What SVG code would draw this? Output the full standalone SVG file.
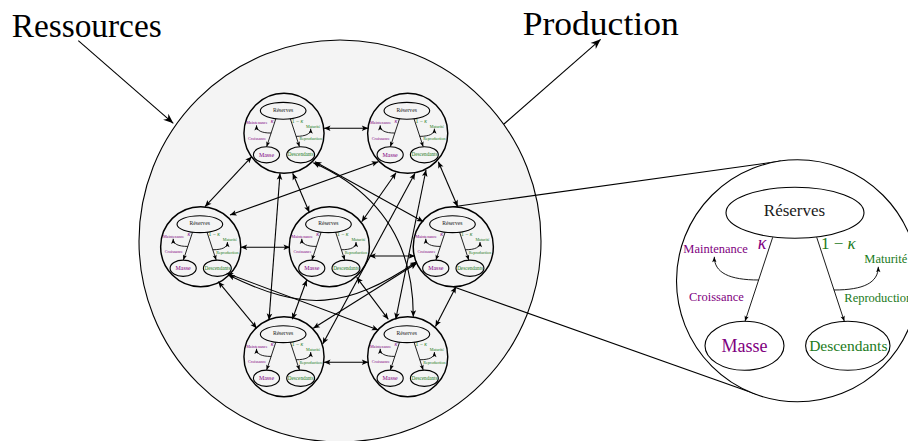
<svg xmlns="http://www.w3.org/2000/svg" width="908" height="441" viewBox="0 0 908 441">
<defs>
<marker id="ah" viewBox="-7 -3 8 6" refX="0" refY="0" markerWidth="8" markerHeight="6" orient="auto" markerUnits="strokeWidth"><path d="M0,0 L-6,-2.4 L-4.6,0 L-6,2.4 Z" fill="#000" stroke="none"/></marker>
<marker id="ch" viewBox="-8 -4 9 8" refX="0" refY="0" markerWidth="9" markerHeight="8" orient="auto-start-reverse" markerUnits="userSpaceOnUse"><path d="M0,0 L-6.5,-2.8 L-5,0 L-6.5,2.8 Z" fill="#000" stroke="none"/></marker>
<marker id="bh" viewBox="-11 -5 12 10" refX="0" refY="0" markerWidth="12" markerHeight="10" orient="auto" markerUnits="userSpaceOnUse"><path d="M0,0 L-10,-4 L-7,0 L-10,4 Z" fill="#000" stroke="none"/></marker>
</defs>

<circle id="system" cx="340" cy="241" r="201" fill="#f4f4f4" stroke="#000" stroke-width="1.1"/>

<g id="titles" font-family="Liberation Serif" font-size="33" fill="#000">
<text x="11.7" y="36.7" textLength="150" lengthAdjust="spacingAndGlyphs">Ressources</text>
<text x="522.7" y="35" textLength="156" lengthAdjust="spacingAndGlyphs">Production</text>
</g>

<g id="connectors" fill="none" stroke="#000" stroke-width="1.1">
<g marker-end="url(#bh)">
<path d="M78.3,40.7 L173.3,123.3"/>
<path d="M504,124 L600.7,39.3"/>
</g>
<path d="M453.3,206.7 L780.8,161.1"/>
<path d="M453.3,286.7 L757.1,394.6"/>
<g marker-start="url(#ch)" marker-end="url(#ch)">
<path d="M324,128.3 L368.3,128.3"/>
<path d="M251.7,156.7 L205,206.7"/>
<path d="M292.7,173.3 L309.3,212.3"/>
<path d="M280,173.3 L269,320"/>
<path d="M315,161.7 L423.3,221.7"/>
<path d="M313.3,162.7 Q413.6,207 413.3,316.7"/>
<path d="M378.3,161.7 L230,215"/>
<path d="M396,172.7 L361.7,221.7"/>
<path d="M438.3,161.7 L457.7,206.7"/>
<path d="M415,173.3 L322.7,344"/>
<path d="M426,170 L395.7,319.3"/>
<path d="M240.7,247.3 L290,247.3"/>
<path d="M228.3,275 C304.7,312.3 346.2,309.2 416.7,261.7"/>
<path d="M218.3,281.7 L256.7,328.3"/>
<path d="M226.7,273.3 L378.3,330"/>
<path d="M369.3,256 L415,256"/>
<path d="M306.7,280 L292.3,319.3"/>
<path d="M356.7,277.3 L388.3,319.3"/>
<path d="M416.7,263.3 L313.3,328.3"/>
<path d="M456,286.7 L435.5,326.5"/>
<path d="M324,362.3 L368.3,362.3"/>
</g>
</g>

<g id="node-zoom" font-family="Liberation Serif" transform="translate(797.5,280.8)">
<circle r="121" fill="#fff" stroke="#000" stroke-width="1.1"/>
<g fill="none" stroke="#000" stroke-width="1.1">
<ellipse cx="-2.5" cy="-68" rx="69" ry="25.5"/>
<ellipse cx="-53" cy="65" rx="39.5" ry="24.5"/>
<ellipse cx="50.3" cy="65" rx="42.2" ry="24.5"/>
</g>
<g fill="none" stroke="#000" stroke-width="0.9" marker-end="url(#ah)">
<path d="M-24.8,-43.5 L-52.5,40.5"/>
<path d="M19.2,-43.5 L46.8,40.5"/>
<path d="M-38.8,-0.8 C-68,-0.8 -83.2,-8 -83.2,-24"/>
<path d="M36.4,9.2 C66,9.2 80.8,2 80.8,-14"/>
</g>
<text x="-3" y="-65" font-size="17" fill="#1a1a1a" text-anchor="middle">Réserves</text>
<text x="-53" y="71" font-size="18" fill="#800080" text-anchor="middle">Masse</text>
<text x="50.8" y="70" font-size="15.5" fill="#1b7a1b" text-anchor="middle">Descendants</text>
<text x="-35.5" y="-31.5" font-size="18" font-style="italic" fill="#800080" text-anchor="middle">κ</text>
<text x="23.5" y="-31.5" font-size="17" fill="#1b7a1b">1 − <tspan font-style="italic">κ</tspan></text>
<g font-size="12.5" fill="#800080">
<text x="-114.2" y="-27.5">Maintenance</text>
<text x="-108.5" y="20">Croissance</text>
</g>
<g font-size="12.5" fill="#1b7a1b">
<text x="66.8" y="-17.5">Maturité</text>
<text x="46.8" y="21">Reproduction</text>
</g>
</g>

<g id="node-tl" font-family="Liberation Serif" transform="translate(284,133.3) scale(0.331)">
<circle r="121" fill="none" stroke="#000" stroke-width="4.4"/>
<g fill="none" stroke="#000" stroke-width="3.4">
<ellipse cx="-2.5" cy="-68" rx="69" ry="25.5"/>
<ellipse cx="-53" cy="65" rx="39.5" ry="24.5"/>
<ellipse cx="50.3" cy="65" rx="42.2" ry="24.5"/>
</g>
<g fill="none" stroke="#000" stroke-width="2.6" marker-end="url(#ah)">
<path d="M-24.8,-43.5 L-52.5,40.5"/>
<path d="M19.2,-43.5 L46.8,40.5"/>
<path d="M-38.8,-0.8 C-68,-0.8 -83.2,-8 -83.2,-24"/>
<path d="M36.4,9.2 C66,9.2 80.8,2 80.8,-14"/>
</g>
<text x="-3" y="-65" font-size="17" fill="#1a1a1a" text-anchor="middle">Réserves</text>
<text x="-53" y="71" font-size="18" fill="#800080" text-anchor="middle">Masse</text>
<text x="50.8" y="70" font-size="15.5" fill="#1b7a1b" text-anchor="middle">Descendants</text>
<text x="-35.5" y="-31.5" font-size="18" font-style="italic" fill="#800080" text-anchor="middle">κ</text>
<text x="23.5" y="-31.5" font-size="17" fill="#1b7a1b">1 − <tspan font-style="italic">κ</tspan></text>
<g font-size="12.5" fill="#800080">
<text x="-114.2" y="-27.5">Maintenance</text>
<text x="-108.5" y="20">Croissance</text>
</g>
<g font-size="12.5" fill="#1b7a1b">
<text x="66.8" y="-17.5">Maturité</text>
<text x="46.8" y="21">Reproduction</text>
</g>
</g>

<g id="node-tr" font-family="Liberation Serif" transform="translate(407.7,133.3) scale(0.331)">
<circle r="121" fill="none" stroke="#000" stroke-width="4.4"/>
<g fill="none" stroke="#000" stroke-width="3.4">
<ellipse cx="-2.5" cy="-68" rx="69" ry="25.5"/>
<ellipse cx="-53" cy="65" rx="39.5" ry="24.5"/>
<ellipse cx="50.3" cy="65" rx="42.2" ry="24.5"/>
</g>
<g fill="none" stroke="#000" stroke-width="2.6" marker-end="url(#ah)">
<path d="M-24.8,-43.5 L-52.5,40.5"/>
<path d="M19.2,-43.5 L46.8,40.5"/>
<path d="M-38.8,-0.8 C-68,-0.8 -83.2,-8 -83.2,-24"/>
<path d="M36.4,9.2 C66,9.2 80.8,2 80.8,-14"/>
</g>
<text x="-3" y="-65" font-size="17" fill="#1a1a1a" text-anchor="middle">Réserves</text>
<text x="-53" y="71" font-size="18" fill="#800080" text-anchor="middle">Masse</text>
<text x="50.8" y="70" font-size="15.5" fill="#1b7a1b" text-anchor="middle">Descendants</text>
<text x="-35.5" y="-31.5" font-size="18" font-style="italic" fill="#800080" text-anchor="middle">κ</text>
<text x="23.5" y="-31.5" font-size="17" fill="#1b7a1b">1 − <tspan font-style="italic">κ</tspan></text>
<g font-size="12.5" fill="#800080">
<text x="-114.2" y="-27.5">Maintenance</text>
<text x="-108.5" y="20">Croissance</text>
</g>
<g font-size="12.5" fill="#1b7a1b">
<text x="66.8" y="-17.5">Maturité</text>
<text x="46.8" y="21">Reproduction</text>
</g>
</g>

<g id="node-ml" font-family="Liberation Serif" transform="translate(200.7,246.7) scale(0.331)">
<circle r="121" fill="none" stroke="#000" stroke-width="4.4"/>
<g fill="none" stroke="#000" stroke-width="3.4">
<ellipse cx="-2.5" cy="-68" rx="69" ry="25.5"/>
<ellipse cx="-53" cy="65" rx="39.5" ry="24.5"/>
<ellipse cx="50.3" cy="65" rx="42.2" ry="24.5"/>
</g>
<g fill="none" stroke="#000" stroke-width="2.6" marker-end="url(#ah)">
<path d="M-24.8,-43.5 L-52.5,40.5"/>
<path d="M19.2,-43.5 L46.8,40.5"/>
<path d="M-38.8,-0.8 C-68,-0.8 -83.2,-8 -83.2,-24"/>
<path d="M36.4,9.2 C66,9.2 80.8,2 80.8,-14"/>
</g>
<text x="-3" y="-65" font-size="17" fill="#1a1a1a" text-anchor="middle">Réserves</text>
<text x="-53" y="71" font-size="18" fill="#800080" text-anchor="middle">Masse</text>
<text x="50.8" y="70" font-size="15.5" fill="#1b7a1b" text-anchor="middle">Descendants</text>
<text x="-35.5" y="-31.5" font-size="18" font-style="italic" fill="#800080" text-anchor="middle">κ</text>
<text x="23.5" y="-31.5" font-size="17" fill="#1b7a1b">1 − <tspan font-style="italic">κ</tspan></text>
<g font-size="12.5" fill="#800080">
<text x="-114.2" y="-27.5">Maintenance</text>
<text x="-108.5" y="20">Croissance</text>
</g>
<g font-size="12.5" fill="#1b7a1b">
<text x="66.8" y="-17.5">Maturité</text>
<text x="46.8" y="21">Reproduction</text>
</g>
</g>

<g id="node-c" font-family="Liberation Serif" transform="translate(329.3,246.7) scale(0.331)">
<circle r="121" fill="none" stroke="#000" stroke-width="4.4"/>
<g fill="none" stroke="#000" stroke-width="3.4">
<ellipse cx="-2.5" cy="-68" rx="69" ry="25.5"/>
<ellipse cx="-53" cy="65" rx="39.5" ry="24.5"/>
<ellipse cx="50.3" cy="65" rx="42.2" ry="24.5"/>
</g>
<g fill="none" stroke="#000" stroke-width="2.6" marker-end="url(#ah)">
<path d="M-24.8,-43.5 L-52.5,40.5"/>
<path d="M19.2,-43.5 L46.8,40.5"/>
<path d="M-38.8,-0.8 C-68,-0.8 -83.2,-8 -83.2,-24"/>
<path d="M36.4,9.2 C66,9.2 80.8,2 80.8,-14"/>
</g>
<text x="-3" y="-65" font-size="17" fill="#1a1a1a" text-anchor="middle">Réserves</text>
<text x="-53" y="71" font-size="18" fill="#800080" text-anchor="middle">Masse</text>
<text x="50.8" y="70" font-size="15.5" fill="#1b7a1b" text-anchor="middle">Descendants</text>
<text x="-35.5" y="-31.5" font-size="18" font-style="italic" fill="#800080" text-anchor="middle">κ</text>
<text x="23.5" y="-31.5" font-size="17" fill="#1b7a1b">1 − <tspan font-style="italic">κ</tspan></text>
<g font-size="12.5" fill="#800080">
<text x="-114.2" y="-27.5">Maintenance</text>
<text x="-108.5" y="20">Croissance</text>
</g>
<g font-size="12.5" fill="#1b7a1b">
<text x="66.8" y="-17.5">Maturité</text>
<text x="46.8" y="21">Reproduction</text>
</g>
</g>

<g id="node-mr" font-family="Liberation Serif" transform="translate(453.3,246.7) scale(0.331)">
<circle r="121" fill="none" stroke="#000" stroke-width="4.4"/>
<g fill="none" stroke="#000" stroke-width="3.4">
<ellipse cx="-2.5" cy="-68" rx="69" ry="25.5"/>
<ellipse cx="-53" cy="65" rx="39.5" ry="24.5"/>
<ellipse cx="50.3" cy="65" rx="42.2" ry="24.5"/>
</g>
<g fill="none" stroke="#000" stroke-width="2.6" marker-end="url(#ah)">
<path d="M-24.8,-43.5 L-52.5,40.5"/>
<path d="M19.2,-43.5 L46.8,40.5"/>
<path d="M-38.8,-0.8 C-68,-0.8 -83.2,-8 -83.2,-24"/>
<path d="M36.4,9.2 C66,9.2 80.8,2 80.8,-14"/>
</g>
<text x="-3" y="-65" font-size="17" fill="#1a1a1a" text-anchor="middle">Réserves</text>
<text x="-53" y="71" font-size="18" fill="#800080" text-anchor="middle">Masse</text>
<text x="50.8" y="70" font-size="15.5" fill="#1b7a1b" text-anchor="middle">Descendants</text>
<text x="-35.5" y="-31.5" font-size="18" font-style="italic" fill="#800080" text-anchor="middle">κ</text>
<text x="23.5" y="-31.5" font-size="17" fill="#1b7a1b">1 − <tspan font-style="italic">κ</tspan></text>
<g font-size="12.5" fill="#800080">
<text x="-114.2" y="-27.5">Maintenance</text>
<text x="-108.5" y="20">Croissance</text>
</g>
<g font-size="12.5" fill="#1b7a1b">
<text x="66.8" y="-17.5">Maturité</text>
<text x="46.8" y="21">Reproduction</text>
</g>
</g>

<g id="node-bl" font-family="Liberation Serif" transform="translate(284,356.7) scale(0.331)">
<circle r="121" fill="none" stroke="#000" stroke-width="4.4"/>
<g fill="none" stroke="#000" stroke-width="3.4">
<ellipse cx="-2.5" cy="-68" rx="69" ry="25.5"/>
<ellipse cx="-53" cy="65" rx="39.5" ry="24.5"/>
<ellipse cx="50.3" cy="65" rx="42.2" ry="24.5"/>
</g>
<g fill="none" stroke="#000" stroke-width="2.6" marker-end="url(#ah)">
<path d="M-24.8,-43.5 L-52.5,40.5"/>
<path d="M19.2,-43.5 L46.8,40.5"/>
<path d="M-38.8,-0.8 C-68,-0.8 -83.2,-8 -83.2,-24"/>
<path d="M36.4,9.2 C66,9.2 80.8,2 80.8,-14"/>
</g>
<text x="-3" y="-65" font-size="17" fill="#1a1a1a" text-anchor="middle">Réserves</text>
<text x="-53" y="71" font-size="18" fill="#800080" text-anchor="middle">Masse</text>
<text x="50.8" y="70" font-size="15.5" fill="#1b7a1b" text-anchor="middle">Descendants</text>
<text x="-35.5" y="-31.5" font-size="18" font-style="italic" fill="#800080" text-anchor="middle">κ</text>
<text x="23.5" y="-31.5" font-size="17" fill="#1b7a1b">1 − <tspan font-style="italic">κ</tspan></text>
<g font-size="12.5" fill="#800080">
<text x="-114.2" y="-27.5">Maintenance</text>
<text x="-108.5" y="20">Croissance</text>
</g>
<g font-size="12.5" fill="#1b7a1b">
<text x="66.8" y="-17.5">Maturité</text>
<text x="46.8" y="21">Reproduction</text>
</g>
</g>

<g id="node-br" font-family="Liberation Serif" transform="translate(407.7,356.7) scale(0.331)">
<circle r="121" fill="none" stroke="#000" stroke-width="4.4"/>
<g fill="none" stroke="#000" stroke-width="3.4">
<ellipse cx="-2.5" cy="-68" rx="69" ry="25.5"/>
<ellipse cx="-53" cy="65" rx="39.5" ry="24.5"/>
<ellipse cx="50.3" cy="65" rx="42.2" ry="24.5"/>
</g>
<g fill="none" stroke="#000" stroke-width="2.6" marker-end="url(#ah)">
<path d="M-24.8,-43.5 L-52.5,40.5"/>
<path d="M19.2,-43.5 L46.8,40.5"/>
<path d="M-38.8,-0.8 C-68,-0.8 -83.2,-8 -83.2,-24"/>
<path d="M36.4,9.2 C66,9.2 80.8,2 80.8,-14"/>
</g>
<text x="-3" y="-65" font-size="17" fill="#1a1a1a" text-anchor="middle">Réserves</text>
<text x="-53" y="71" font-size="18" fill="#800080" text-anchor="middle">Masse</text>
<text x="50.8" y="70" font-size="15.5" fill="#1b7a1b" text-anchor="middle">Descendants</text>
<text x="-35.5" y="-31.5" font-size="18" font-style="italic" fill="#800080" text-anchor="middle">κ</text>
<text x="23.5" y="-31.5" font-size="17" fill="#1b7a1b">1 − <tspan font-style="italic">κ</tspan></text>
<g font-size="12.5" fill="#800080">
<text x="-114.2" y="-27.5">Maintenance</text>
<text x="-108.5" y="20">Croissance</text>
</g>
<g font-size="12.5" fill="#1b7a1b">
<text x="66.8" y="-17.5">Maturité</text>
<text x="46.8" y="21">Reproduction</text>
</g>
</g>
</svg>
